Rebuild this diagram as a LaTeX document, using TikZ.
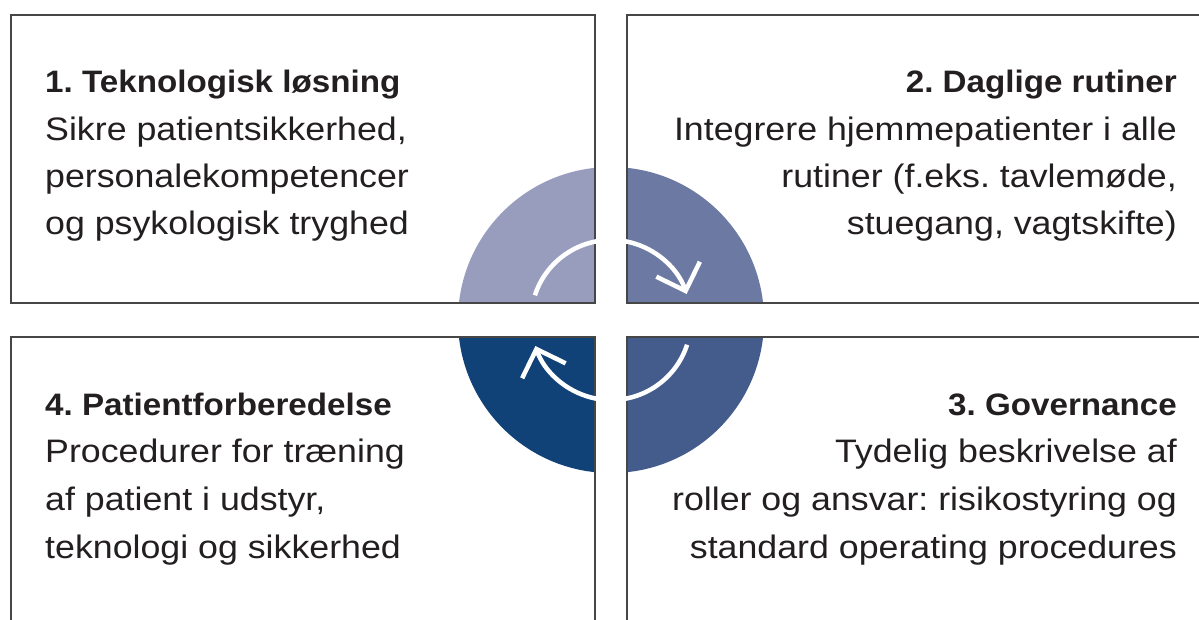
\documentclass[tikz,border=0pt]{standalone}
\usepackage{fontspec}
\setmainfont{Liberation Sans}
\newfontfamily\bodyfont{Liberation Sans}[FakeStretch=1.1]
\newfontfamily\titlefont{Liberation Sans}[FakeStretch=1.07]
\usetikzlibrary{arrows.meta}
\definecolor{qa}{RGB}{152,157,190}
\definecolor{qb}{RGB}{108,121,162}
\definecolor{qc}{RGB}{68,92,140}
\definecolor{qd}{RGB}{16,66,120}
\definecolor{txt}{RGB}{35,31,32}
\definecolor{frame}{RGB}{70,70,70}
\frenchspacing
\tikzset{
  box/.style={draw=frame, line width=2pt, rectangle, inner sep=0pt},
  ttl/.style={font=\titlefont\bfseries\fontsize{31}{31}\selectfont, text=txt, inner sep=0pt},
  bdy/.style={font=\bodyfont\fontsize{32.5}{32.5}\selectfont, text=txt, inner sep=0pt},
  cyc/.style={white, line width=4.5pt, -{Straight Barb[length=23pt, width=46pt]}}
}
\begin{document}
\begin{tikzpicture}[x=1pt,y=1pt]
\useasboundingbox (0,0) rectangle (1199,-619);
\fill[white] (0,0) rectangle (1199,-619);
\coordinate (o) at (611,-320);
% quadrant fills, clipped to boxes
\begin{scope}
  \clip (11,-15) rectangle (595,-303);
  \fill[qa] (o) circle[radius=153];
\end{scope}
\begin{scope}
  \clip (627,-15) rectangle (1215,-303);
  \fill[qb] (o) circle[radius=153];
\end{scope}
\begin{scope}
  \clip (627,-337) rectangle (1215,-635);
  \fill[qc] (o) circle[radius=153];
\end{scope}
\begin{scope}
  \clip (11,-337) rectangle (595,-635);
  \fill[qd] (o) circle[radius=153];
\end{scope}
% boxes
\node[box, minimum width=584, minimum height=288] (b1) at (303,-159) {};
\node[box, minimum width=588, minimum height=288] (b2) at (921,-159) {};
\node[box, minimum width=588, minimum height=298] (b3) at (921,-486) {};
\node[box, minimum width=584, minimum height=298] (b4) at (303,-486) {};
% cycle arrows
\draw[cyc] (o) ++(162:80) arc[start angle=162, end angle=19, radius=80];
\draw[cyc] (o) ++(-18:80) arc[start angle=-18, end angle=-161, radius=80];
% texts box 1
\node[ttl, anchor=base west] (h1) at (45,-92) {1. Teknologisk løsning};
\node[bdy, anchor=base west] (l1a) at (45,-140) {Sikre patientsikkerhed,};
\node[bdy, anchor=base west] (l1b) at (45,-187) {personalekompetencer};
\node[bdy, anchor=base west] (l1c) at (45,-234) {og psykologisk tryghed};
% texts box 2
\node[ttl, anchor=base east] (h2) at (1177,-92) {2. Daglige rutiner};
\node[bdy, anchor=base east] (l2a) at (1177,-140) {Integrere hjemmepatienter i alle};
\node[bdy, anchor=base east] (l2b) at (1177,-187) {rutiner (f.eks. tavlemøde,};
\node[bdy, anchor=base east] (l2c) at (1177,-234) {stuegang, vagtskifte)};
% texts box 3
\node[ttl, anchor=base east] (h3) at (1177,-415) {3. Governance};
\node[bdy, anchor=base east] (l3a) at (1177,-462) {Tydelig beskrivelse af};
\node[bdy, anchor=base east] (l3b) at (1177,-510) {roller og ansvar: risikostyring og};
\node[bdy, anchor=base east] (l3c) at (1177,-558) {standard operating procedures};
% texts box 4
\node[ttl, anchor=base west] (h4) at (45,-415) {4. Patientforberedelse};
\node[bdy, anchor=base west] (l4a) at (45,-462) {Procedurer for træning};
\node[bdy, anchor=base west] (l4b) at (45,-510) {af patient i udstyr,};
\node[bdy, anchor=base west] (l4c) at (45,-558) {teknologi og sikkerhed};
\end{tikzpicture}
\end{document}
